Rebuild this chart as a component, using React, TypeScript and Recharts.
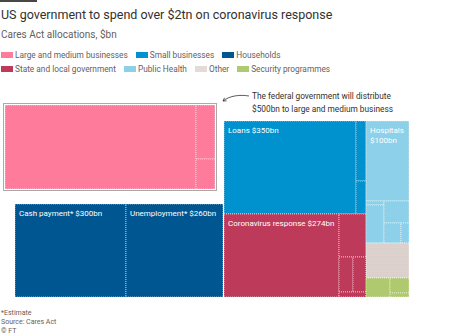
import React from 'react';
import { Treemap } from 'recharts';

// Cares Act allocations, $bn
const largeBusinessItems = [
  { name: 'Treasury lending facilities', value: 454, label: '' },
  { name: 'Passenger air carriers', value: 29, label: '' },
  { name: 'National security businesses', value: 17, label: '' },
];

const householdItems = [
  { name: 'Cash payment', value: 300, label: 'Cash payment* $300bn' },
  { name: 'Unemployment', value: 260, label: 'Unemployment* $260bn' },
];

const smallBusinessItems = [
  { name: 'Loans', value: 350, label: 'Loans $350bn' },
  { name: 'Emergency grants', value: 17, label: '' },
  { name: 'Debt relief', value: 10, label: '' },
];

const stateLocalItems = [
  { name: 'Coronavirus response', value: 274, label: 'Coronavirus response $274bn' },
  { name: 'Education', value: 33, label: '' },
  { name: 'Transit', value: 14, label: '' },
  { name: 'Community grants', value: 13, label: '' },
  { name: 'Other state aid', value: 3, label: '' },
];

const publicHealthItems = [
  { name: 'Hospitals', value: 98, label: 'Hospitals\n$100bn' },
  { name: 'Medical supplies', value: 2, label: '' },
  { name: 'Public health emergency fund', value: 20, label: '' },
  { name: 'Veterans health', value: 16, label: '' },
  { name: 'CDC', value: 10, label: '' },
  { name: 'Research', value: 4, label: '' },
];

const otherItems = [{ name: 'Other', value: 43, label: '' }];

const securityItems = [
  { name: 'Defense', value: 13, label: '' },
  { name: 'Homeland security', value: 8, label: '' },
  { name: 'Other security', value: 2, label: '' },
];

const legendRow1 = [
  { name: 'Large and medium businesses', group: 'large' },
  { name: 'Small businesses', group: 'small' },
  { name: 'Households', group: 'households' },
];
const legendRow2 = [
  { name: 'State and local government', group: 'state' },
  { name: 'Public Health', group: 'health' },
  { name: 'Other', group: 'other' },
  { name: 'Security programmes', group: 'security' },
];

const groupColors: Record<string, string> = {
  large: '#ff7b9c',
  small: '#0091cf',
  households: '#005690',
  state: '#bd3a5b',
  health: '#8dd0e9',
  other: 'url(#otherDots)',
  security: '#afc96f',
};

const tag = (items: any[], group: string) => items.map((d) => ({ ...d, group }));

const mainData = [
  { name: 'Small businesses', children: tag(smallBusinessItems, 'small') },
  { name: 'State and local government', children: tag(stateLocalItems, 'state') },
  { name: 'Public Health', children: tag(publicHealthItems, 'health') },
  { name: 'Other', children: tag(otherItems, 'other') },
  { name: 'Security programmes', children: tag(securityItems, 'security') },
];

const FONT = 'Roboto, "Noto Sans", sans-serif';

const Tile = (props: any) => {
  const { x, y, width, height, depth, group, label, leafDepth } = props;
  if (depth !== leafDepth || !(width > 0) || !(height > 0)) return <g />;
  const lines = label ? String(label).split('\n') : [];
  return (
    <g>
      <rect
        x={x}
        y={y}
        width={width}
        height={height}
        fill={groupColors[group]}
        stroke="#ffffff"
        strokeOpacity={0.75}
        strokeWidth={0.8}
        strokeDasharray="1 1"
      />
      {lines.map((l, i) => (
        <text key={i} x={x + 4} y={y + 12 + i * 10} fill="#ffffff" fontSize={8} fontFamily={FONT}>
          {l}
        </text>
      ))}
    </g>
  );
};

const Swatch = ({ group }: { group: string }) => (
  <span
    style={{
      display: 'inline-block',
      width: 12,
      height: 6,
      marginRight: 2,
      background:
        group === 'other'
          ? 'radial-gradient(circle, #c6b5b0 35%, #e4dad6 40%) 0 0 / 2px 2px'
          : groupColors[group],
    }}
  />
);

const LegendRow = ({ items, top }: { items: { name: string; group: string }[]; top: number }) => (
  <div style={{ position: 'absolute', left: 1, top, display: 'flex', gap: 8, alignItems: 'center' }}>
    {items.map((it) => (
      <div key={it.name} style={{ display: 'flex', alignItems: 'center', whiteSpace: 'nowrap' }}>
        <Swatch group={it.group} />
        <span>{it.name}</span>
      </div>
    ))}
  </div>
);

export default function App() {
  return (
    <div
      style={{
        position: 'absolute',
        left: 0,
        top: 0,
        width: 470,
        height: 336,
        background: '#ffffff',
        fontFamily: FONT,
        color: '#33302e',
        overflow: 'hidden',
      }}
    >
      <svg width={0} height={0} style={{ position: 'absolute' }}>
        <defs>
          <pattern id="otherDots" width={2} height={2} patternUnits="userSpaceOnUse">
            <rect width={2} height={2} fill="#e4dad6" />
            <circle cx={1} cy={1} r={0.55} fill="#c2b0ab" />
          </pattern>
        </defs>
      </svg>

      <div style={{ position: 'absolute', left: 0, top: 0, width: 37, height: 2, background: '#4a4644' }} />
      <div style={{ position: 'absolute', left: 1, top: 7, fontSize: 12.5, lineHeight: '16px', whiteSpace: 'nowrap' }}>
        US government to spend over $2tn on coronavirus response
      </div>
      <div style={{ position: 'absolute', left: 1, top: 29, fontSize: 10, lineHeight: '12px', color: '#66605c' }}>
        Cares Act allocations, $bn
      </div>

      <div style={{ fontSize: 8.3, lineHeight: '10px', color: '#66605c' }}>
        <LegendRow items={legendRow1} top={50} />
        <LegendRow items={legendRow2} top={64} />
      </div>

      <div style={{ position: 'absolute', left: 252, top: 90, fontSize: 8.3, lineHeight: '13px', whiteSpace: 'nowrap' }}>
        <div>The federal government will distribute</div>
        <div>$500bn to large and medium business</div>
      </div>
      <svg width={470} height={336} style={{ position: 'absolute', left: 0, top: 0, pointerEvents: 'none' }}>
        <path d="M249,96 C240,94.5 230,95.5 223,101" fill="none" stroke="#33302e" strokeWidth={0.8} />
        <path d="M226.5,100.8 L223,101 L224.5,97.8" fill="none" stroke="#33302e" strokeWidth={0.8} />
      </svg>

      <div
        style={{
          position: 'absolute',
          left: 3,
          top: 103,
          width: 214,
          height: 88,
          border: '1px solid #aaaaaa',
          boxSizing: 'border-box',
        }}
      />
      <div style={{ position: 'absolute', left: 5, top: 105 }}>
        <Treemap
          width={210}
          height={84}
          data={tag(largeBusinessItems, 'large')}
          dataKey="value"
          isAnimationActive={false}
          content={<Tile leafDepth={1} />}
        />
      </div>

      <div style={{ position: 'absolute', left: 15, top: 204 }}>
        <Treemap
          width={208}
          height={93}
          data={tag(householdItems, 'households')}
          dataKey="value"
          isAnimationActive={false}
          content={<Tile leafDepth={1} />}
        />
      </div>

      <div style={{ position: 'absolute', left: 224, top: 121 }}>
        <Treemap
          width={185}
          height={176}
          data={mainData}
          dataKey="value"
          isAnimationActive={false}
          content={<Tile leafDepth={2} />}
        />
      </div>

      <div style={{ position: 'absolute', left: 1, top: 309, fontSize: 7, lineHeight: '9px', color: '#66605c' }}>
        <div>*Estimate</div>
        <div>Source: Cares Act</div>
        <div>© FT</div>
      </div>
    </div>
  );
}
